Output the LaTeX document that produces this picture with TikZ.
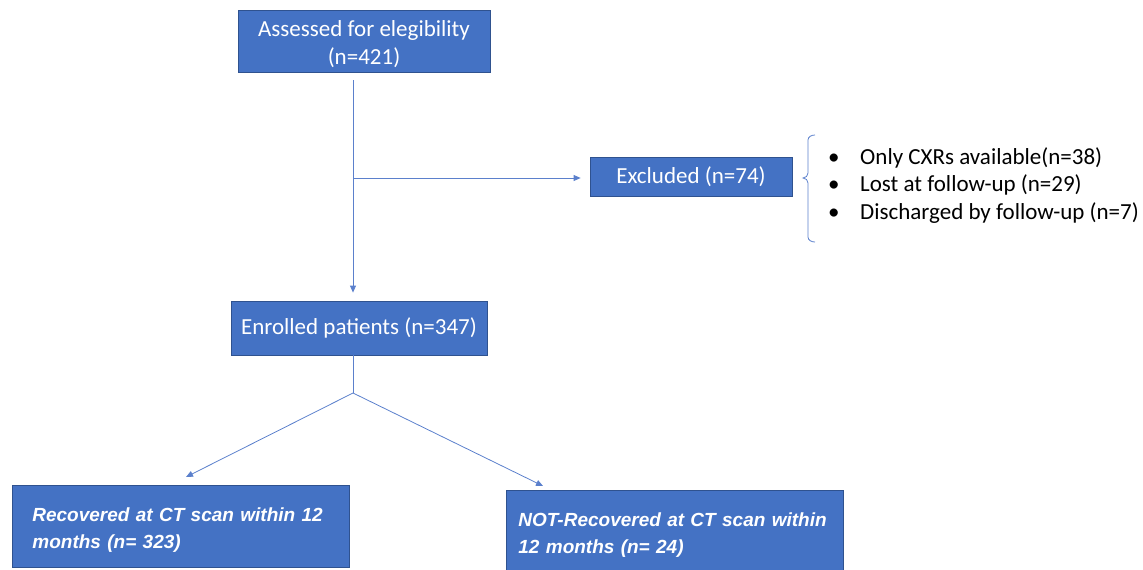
\documentclass[tikz,border=0pt]{standalone}
\usepackage{fontspec}
\newfontfamily\calfont{Carlito}
\newfontfamily\arialfont{Liberation Sans}
\usetikzlibrary{arrows.meta,positioning}
\definecolor{BoxBlue}{HTML}{4472C4}
\definecolor{BoxEdge}{HTML}{2F528F}
\definecolor{LineBlue}{HTML}{5B80CC}

\tikzset{
  box/.style={draw=BoxEdge,fill=BoxBlue,text=white,line width=0.8pt,inner sep=0pt,
    font=\calfont\fontsize{23}{28}\selectfont,align=center},
  outcome/.style={box,anchor=north west,align=left,minimum height=82pt,
    font=\arialfont\bfseries\itshape\fontsize{19}{27}\selectfont},
  link/.style={draw=LineBlue,line width=0.8pt,-{Triangle[length=7pt,width=6pt]}},
  plain/.style={draw=LineBlue,line width=0.8pt}
}

\begin{document}
\begin{tikzpicture}[x=1pt,y=-1pt]
  \useasboundingbox (0,0) rectangle (1143,570);

  % main boxes
  \node[box,minimum width=252pt,minimum height=62pt] (assessed) at (364,41)
    {\rule{0pt}{21.5pt}Assessed for elegibility\\(n=421)};
  \node[box,minimum width=202pt,minimum height=39pt] (excluded) at (691,176.5)
    {Excluded (n=74)};
  \node[box,minimum width=256pt,minimum height=54pt] (enrolled) at (359,328)
    {Enrolled patients (n=347)};

  % outcomes
  \node[outcome,text width=297pt,inner xsep=20pt] (recovered) at (12,485)
    {\rule{0pt}{22pt}Recovered at CT scan within 12\\months (\textit{n}= 323)};
  \node[outcome,text width=313pt,inner xsep=12pt] (notrecovered) at (506,490)
    {\rule{0pt}{22pt}NOT-Recovered at CT scan within\\12 months (\textit{n}= 24)};

  % reasons for exclusion
  \node[anchor=west,align=left,inner sep=0pt,font=\calfont\fontsize{23}{27.5}\selectfont] (reasons) at (828,185.5)
    {\makebox[32pt][l]{\textbullet}Only CXRs available(n=38)\\
     \makebox[32pt][l]{\textbullet}Lost at follow-up (n=29)\\
     \makebox[32pt][l]{\textbullet}Discharged by follow-up (n=7)};
  \draw[plain] (815,135) to[out=180,in=90] (808,140) -- (808,173)
    to[out=-90,in=0] (803,178) to[out=0,in=90] (808,183) -- (808,237)
    to[out=-90,in=180] (815,242);

  % connectors
  \coordinate (top) at (353,80);
  \coordinate (split1) at (353,178);
  \coordinate (split2) at (353,393);
  \coordinate (tipL) at (186,477);
  \coordinate (tipR) at (543,486);
  \draw[link,shorten >=8pt] (top) -- (top |- enrolled.north);
  \draw[link,shorten >=9pt] (split1) -- (split1 -| excluded.west);
  \draw[plain] (enrolled.south -| split2) -- (split2);
  \draw[link] (split2) -- (tipL);
  \draw[link] (split2) -- (tipR);
\end{tikzpicture}
\end{document}
